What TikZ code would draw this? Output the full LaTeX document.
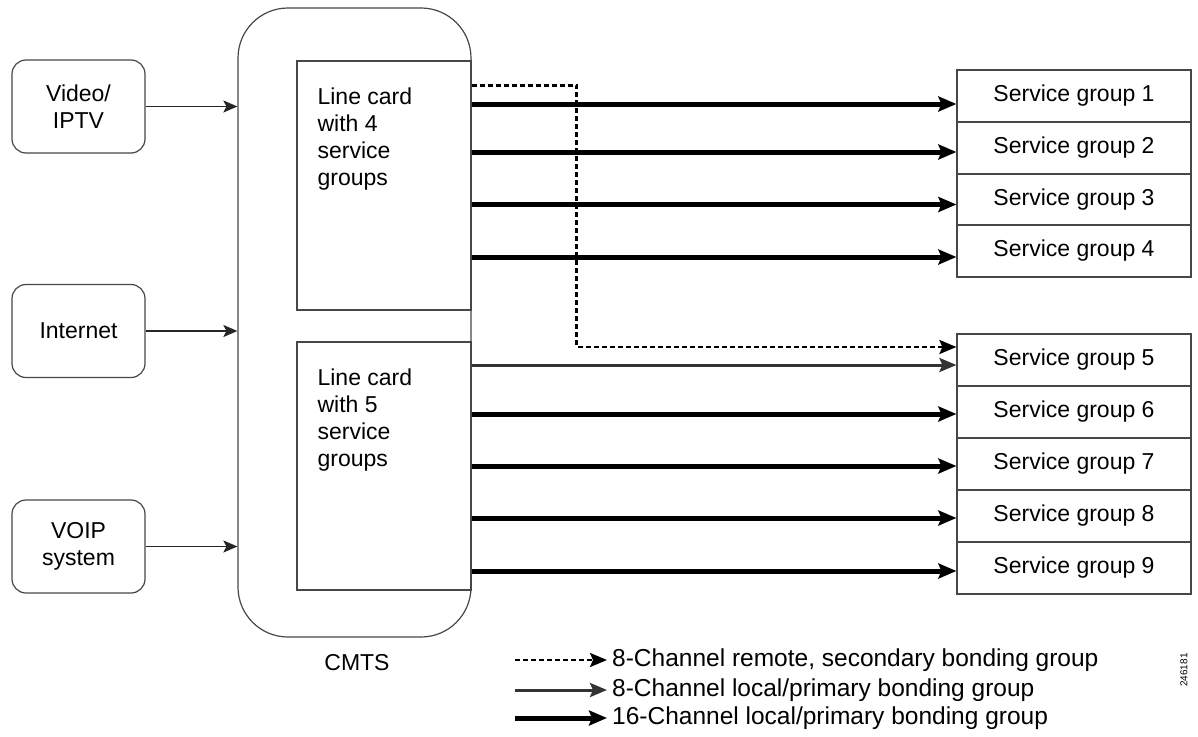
\documentclass[tikz,border=0pt]{standalone}
\usepackage{fontspec}
\setmainfont{Liberation Sans}
\usetikzlibrary{arrows.meta,calc}
\newcommand{\fs}{\fontsize{23}{27}\selectfont}
\newcommand{\fsleg}{\fontsize{24.5}{28}\selectfont}
\begin{document}
\begin{tikzpicture}[x=1pt,y=-1pt,
  outline/.style={draw=black!72, line width=1.2pt},
  srcbox/.style={outline, rounded corners=14pt, minimum width=133pt, minimum height=93pt, align=center, font=\fs, inner sep=0pt},
  cmtsbox/.style={outline, rounded corners=50pt, minimum width=233pt, minimum height=629pt, inner sep=0pt},
  lcbox/.style={outline, minimum width=174pt, inner sep=0pt},
  lctext/.style={anchor=north west, align=left, font=\fs, inner sep=0pt},
  sgbox/.style={outline, minimum width=234pt, minimum height=52pt, font=\fs, inner sep=0pt},
  inarrow/.style={draw=black!85, line width=1.6pt, -{Stealth[length=14pt,width=12pt,inset=3pt]}},
  thick16/.style={draw=black, line width=5pt, -{Stealth[length=18pt,width=15pt,inset=3pt]}},
  thin8/.style={draw=black!80, line width=3pt, -{Stealth[length=17pt,width=14pt,inset=3pt]}},
  remote/.style={draw=black, line width=2.4pt, dash pattern=on 5pt off 3pt, -{Stealth[length=17pt,width=14pt,inset=3pt]}},
  legtext/.style={anchor=west, font=\fsleg, inner sep=0pt}
]
\useasboundingbox (0,0) rectangle (1198,736);

% sources
\node[srcbox] (video) at (78.5,106.5) {Video/\\IPTV};
\node[srcbox] (inet) at (78.5,331) {Internet};
\node[srcbox] (voip) at (78.5,546.5) {VOIP\\system};

% CMTS
\node[cmtsbox] (cmts) at (354.5,322.5) {};
\node[font=\fs] (cmtslabel) at (357,663) {CMTS};

% line cards
\node[lcbox, minimum height=249pt] (lc1) at (384,185.5) {};
\node[lctext] (lc1t) at ($(lc1.north west)+(21,27)$) {Line card\\with 4\\service\\groups};
\node[lcbox, minimum height=248pt] (lc2) at (384,466) {};
\node[lctext] (lc2t) at ($(lc2.north west)+(21,27)$) {Line card\\with 5\\service\\groups};

% service groups
\node[sgbox] (sg1) at (1074,96) {Service group 1};
\node[sgbox] (sg2) at (1074,148) {Service group 2};
\node[sgbox] (sg3) at (1074,199.5) {Service group 3};
\node[sgbox] (sg4) at (1074,251) {Service group 4};
\node[sgbox] (sg5) at (1074,360) {Service group 5};
\node[sgbox] (sg6) at (1074,412) {Service group 6};
\node[sgbox] (sg7) at (1074,464) {Service group 7};
\node[sgbox] (sg8) at (1074,516) {Service group 8};
\node[sgbox] (sg9) at (1074,568) {Service group 9};

% inputs
\draw[inarrow] (video.east) -- (video.east -| cmts.west);
\draw[inarrow] (inet.east) -- (inet.east -| cmts.west);
\draw[inarrow] (voip.east) -- (voip.east -| cmts.west);

% 16-channel links
\foreach \n/\d in {1/8,2/4,3/5,4/6}
  \draw[thick16] ($(sg\n.west -| lc1.east)+(0,\d)$) -- ($(sg\n.west)+(0,\d)$);
\foreach \n/\d in {6/2,7/2,8/2,9/3}
  \draw[thick16] ($(sg\n.west -| lc2.east)+(0,\d)$) -- ($(sg\n.west)+(0,\d)$);

% 8-channel local
\draw[thin8] ($(sg5.west -| lc2.east)+(0,5)$) -- ($(sg5.west)+(0,5)$);

% remote secondary
\draw[remote] ($(lc1.north east)+(0,25)$) -- ++(105,0) |- ($(sg5.west)+(0,-13)$);

% legend
\coordinate (l1a) at (515,660); \coordinate (l1b) at (607,660);
\coordinate (l2a) at (515,690); \coordinate (l2b) at (607,690);
\coordinate (l3a) at (515,718); \coordinate (l3b) at (607,718);
\draw[remote] (l1a) -- (l1b);
\draw[thin8] (l2a) -- (l2b);
\draw[thick16] (l3a) -- (l3b);
\node[legtext] (lt1) at (612,660) {8-Channel remote, secondary bonding group};
\node[legtext] (lt2) at (612,690) {8-Channel local/primary bonding group};
\node[legtext] (lt3) at (612,718) {16-Channel local/primary bonding group};

\node[rotate=90, font=\fontsize{10}{12}\selectfont] (fig) at (1184,670) {246181};
\end{tikzpicture}
\end{document}
